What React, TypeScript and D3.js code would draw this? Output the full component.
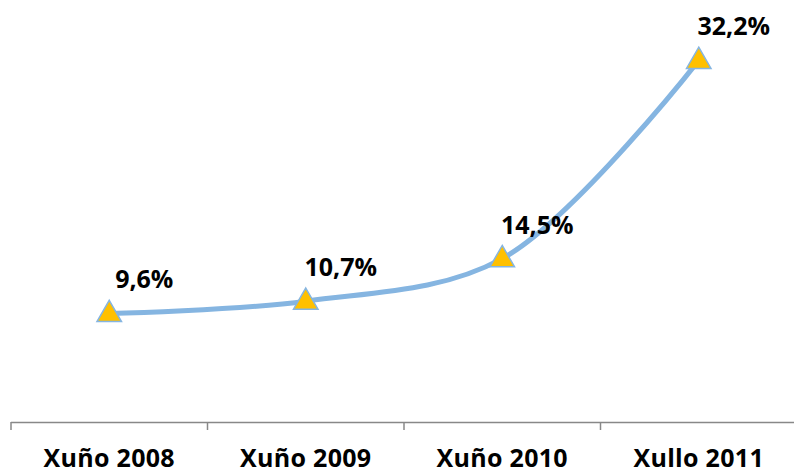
import React, { useEffect, useRef } from "react";
import * as d3 from "d3";

const categories: string[] = ["Xuño 2008", "Xuño 2009", "Xuño 2010", "Xullo 2011"];
const values: number[] = [9.6, 10.7, 14.5, 32.2];
const valueLabels: string[] = ["9,6%", "10,7%", "14,5%", "32,2%"];

const W = 794;
const H = 473;

export default function App() {
  const ref = useRef<SVGSVGElement | null>(null);

  useEffect(() => {
    const svg = d3.select(ref.current);
    svg.selectAll("*").remove();

    const x = d3.scaleBand<string>().domain(categories).range([11, 797]).padding(0);
    const y = d3.scaleLinear().domain([0, 10]).range([421, 309]);
    const cx = (c: string) => (x(c) as number) + x.bandwidth() / 2;

    const font = "'Open Sans', Lato, sans-serif";

    svg.append("line")
      .attr("x1", 11).attr("x2", W)
      .attr("y1", 422.5).attr("y2", 422.5)
      .attr("stroke", "#888888").attr("stroke-width", 1.5);
    const bounds = categories.map((c) => x(c) as number);
    svg.selectAll("line.tick")
      .data(bounds)
      .enter()
      .append("line")
      .attr("class", "tick")
      .attr("x1", (d) => d).attr("x2", (d) => d)
      .attr("y1", 422).attr("y2", 430)
      .attr("stroke", "#888888").attr("stroke-width", 1.5);

    svg.selectAll("text.cat")
      .data(categories)
      .enter()
      .append("text")
      .attr("class", "cat")
      .attr("x", (d) => cx(d))
      .attr("y", 467)
      .attr("text-anchor", "middle")
      .attr("font-family", font)
      .attr("font-weight", "bold")
      .attr("font-size", 25)
      .attr("letter-spacing", 0.3)
      .attr("fill", "#000")
      .text((d) => d);

    const pts: [number, number][] = categories.map((c, i) => [cx(c), y(values[i])]);

    const line = d3.line<[number, number]>().curve(d3.curveCatmullRom.alpha(0.5));
    svg.append("path")
      .attr("d", line(pts) as string)
      .attr("fill", "none")
      .attr("stroke", "#85B5E1")
      .attr("stroke-width", 5)
      .attr("stroke-linecap", "round");

    const tri = d3.symbol().type(d3.symbolTriangle).size(260);
    svg.selectAll("path.marker")
      .data(pts)
      .enter()
      .append("path")
      .attr("class", "marker")
      .attr("d", tri() as string)
      .attr("transform", (d) => `translate(${d[0]},${d[1] + 1})`)
      .attr("fill", "#FFC000")
      .attr("stroke", "#85B5E1")
      .attr("stroke-width", 1.5);

    svg.selectAll("text.val")
      .data(pts)
      .enter()
      .append("text")
      .attr("class", "val")
      .attr("x", (d) => d[0] + 35)
      .attr("y", (d) => d[1] - 25)
      .attr("text-anchor", "middle")
      .attr("font-family", font)
      .attr("font-weight", "bold")
      .attr("font-size", 25)
      .attr("fill", "#000")
      .text((_, i) => valueLabels[i]);
  }, []);

  return (
    <svg
      ref={ref}
      width={W}
      height={H}
      style={{ position: "absolute", left: 0, top: 0, background: "#fff" }}
    />
  );
}
